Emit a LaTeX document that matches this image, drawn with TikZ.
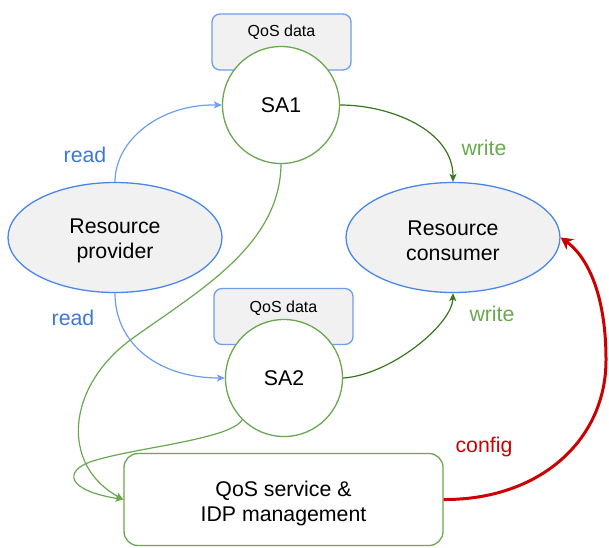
\documentclass[tikz,border=0pt]{standalone}
\usepackage{fontspec}
\setmainfont{Liberation Sans}
\usetikzlibrary{shapes.geometric,arrows.meta}
\definecolor{cblue}{HTML}{4A86E8}
\definecolor{clblue}{HTML}{6D9EEB}
\definecolor{ctblue}{HTML}{3C78D8}
\definecolor{cgreen}{HTML}{6AA84F}
\definecolor{cdgreen}{HTML}{38761D}
\definecolor{cred}{HTML}{CC0000}
\definecolor{cgray}{HTML}{F1F1F1}
\begin{document}
\begin{tikzpicture}[x=1pt,y=-1pt,
  bigfont/.style={font=\fontsize{21.3}{25}\selectfont},
  ell/.style={ellipse, draw=cblue, fill=cgray, line width=1.3pt, minimum width=214pt, minimum height=110pt, inner sep=0pt},
  sa/.style={circle, draw=cgreen, fill=white, line width=1.3pt, minimum size=117pt, inner sep=0pt, bigfont},
  databox/.style={rectangle, rounded corners=8pt, draw=clblue, fill=cgray, line width=1.3pt, minimum width=139pt, minimum height=56pt, inner sep=0pt},
  datatext/.style={font=\fontsize{16}{19}\selectfont, inner sep=0pt},
  svcbox/.style={rectangle, rounded corners=14pt, draw=cgreen, fill=white, line width=1.3pt, minimum width=319pt, minimum height=92pt, inner sep=0pt},
  blocktext/.style={bigfont, align=center, inner sep=0pt},
  lbl/.style={bigfont, inner sep=0pt},
  readarrow/.style={draw=clblue, line width=1.2pt, -{Stealth[length=8pt,width=7pt,inset=2pt]}},
  writearrow/.style={draw=cdgreen, line width=1.2pt, -{Stealth[length=8pt,width=7pt,inset=2pt]}},
  greenarrow/.style={draw=cgreen, line width=1.2pt, -{Stealth[length=8pt,width=7pt,inset=2pt]}},
  redarrow/.style={draw=cred, line width=3pt, -{Stealth[length=12pt,width=13pt,inset=4pt]}}
]
\useasboundingbox (0,0) rectangle (609,547);

% QoS data boxes
\node[databox] (d1) at (281.5,42) {};
\node[datatext] (d1t) at (281.5,32) {QoS data};
\node[databox] (d2) at (283.5,316.5) {};
\node[datatext] (d2t) at (283.5,308) {QoS data};

% SA circles
\node[sa] (SA1) at (281,105) {SA1};
\node[sa] (SA2) at (284,378) {SA2};

% Resource ellipses
\node[ell] (prov) at (115,237.5) {};
\node[blocktext] (provt) at (115,241) {Resource\\provider};
\node[ell] (cons) at (453,237.5) {};
\node[blocktext] (const) at (453,241) {Resource\\consumer};

% QoS service box
\node[svcbox] (svc) at (283.5,499.5) {};
\node[blocktext] (svct) at (283.5,503) {QoS service \&\\IDP management};

% connectors
\draw[readarrow] (prov.north) .. controls (115,140) and (160,104) .. (SA1.west);
\draw[readarrow] (prov.south) .. controls (115,345) and (160,378) .. (SA2.west);
\draw[writearrow] (SA1.east) .. controls (390,105) and (453,130) .. (cons.north);
\draw[writearrow] (SA2.east) .. controls (390,375) and (452,325) .. (cons.south);
\draw[greenarrow] (SA1.south) .. controls (280,245) and (200,290) .. (133,338)
  .. controls (66,386) and (60,465) .. (svc.west);
\draw[greenarrow] (SA2.225) .. controls (230,440) and (130,448) .. (90,462)
  .. controls (65,471) and (65,490) .. (svc.west);
\draw[redarrow] (svc.east) .. controls (540,500) and (606,440) .. (606,360)
  .. controls (606,290) and (585,255) .. (cons.east);

% labels
\node[lbl, text=ctblue] (lr1) at (85,155) {read};
\node[lbl, text=ctblue] (lr2) at (73,318) {read};
\node[lbl, text=cgreen] (lw1) at (484,148) {write};
\node[lbl, text=cgreen] (lw2) at (492,314) {write};
\node[lbl, text=cred] (lc) at (484,447) {config};
\end{tikzpicture}
\end{document}
